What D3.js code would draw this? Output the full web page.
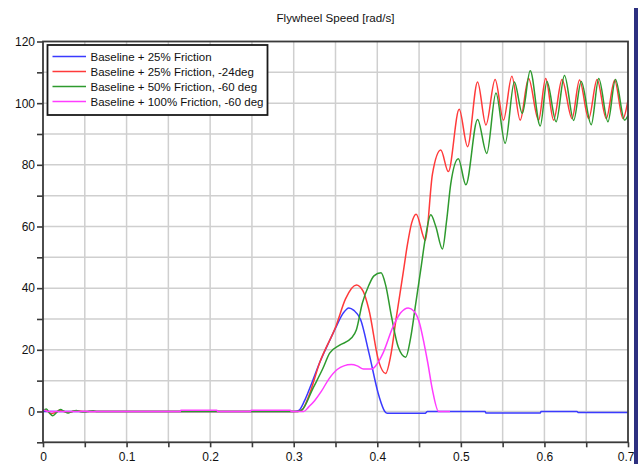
<!DOCTYPE html>
<html>
<head>
<meta charset="utf-8">
<script src="https://cdn.jsdelivr.net/npm/d3@7"></script>
<style>
body{margin:0;background:#fff}
svg{display:block}
text{font-family:"Liberation Sans",Arial,sans-serif;fill:#111}
</style>
</head>
<body>
<svg id="chart"></svg>
<script>
// series, [time s, speed rad/s]
var blueData=[[0,0],[0.3,0],[0.306,0.3],[0.313,3.5],[0.322,9.5],[0.331,15.8],[0.343,23],[0.351,27.6],[0.359,31.8],[0.366,33.6],[0.372,32.8],[0.38,29.8],[0.39,19],[0.402,5],[0.409,0],[0.412,-0.6],[0.457,-0.6],[0.46,0],[0.529,0],[0.53,-0.5],[0.595,-0.5],[0.596,0],[0.639,0],[0.64,-0.3],[0.7,-0.3]];
var redData=[[0,0.5],[0.005,0.1],[0.01,-0.7],[0.015,-0.3],[0.02,0.4],[0.025,0],[0.03,-0.3],[0.035,0],[0.04,0.2],[0.05,0],[0.305,0],[0.31,0.5],[0.318,5],[0.331,15.8],[0.351,28],[0.362,36.5],[0.375,41],[0.383,39],[0.39,33],[0.402,16],[0.41,12.3],[0.416,18],[0.4225,30],[0.431,45],[0.436,54],[0.441,61],[0.4465,64],[0.4575,55.5],[0.466,77],[0.476,84.8],[0.485,77.8],[0.498,98],[0.508,85.9],[0.52,106.9],[0.53,92.9],[0.541,107.7],[0.551,94.5],[0.561,108.7],[0.571,94.5],[0.581,108],[0.593,94.5],[0.6015,108],[0.611,94.5],[0.621,107.7],[0.633,95],[0.642,107.5],[0.653,95],[0.663,107.7],[0.674,95],[0.684,107.4],[0.694,95],[0.7,101]];
var greenData=[[0,0.3],[0.004,0.8],[0.008,-0.6],[0.0115,-1.4],[0.016,-0.4],[0.021,0.6],[0.025,0.1],[0.03,-0.5],[0.035,0],[0.04,0.3],[0.045,-0.1],[0.05,-0.2],[0.055,0.1],[0.06,0.2],[0.065,0],[0.305,0],[0.31,0.5],[0.323,7.5],[0.335,14],[0.343,18.9],[0.355,21.5],[0.369,23.8],[0.375,26.5],[0.382,35],[0.39,41],[0.396,44],[0.4045,45],[0.41,41],[0.417,30.8],[0.425,21],[0.434,17.6],[0.44,24],[0.446,35],[0.452,46],[0.458,57],[0.464,63.8],[0.47,60],[0.478,52.7],[0.483,62],[0.488,74],[0.497,82],[0.506,73.5],[0.52,94.7],[0.531,83.7],[0.542,103.3],[0.553,87],[0.564,106.9],[0.5735,96.7],[0.583,110.5],[0.595,92.6],[0.603,107],[0.614,94],[0.624,109],[0.635,94.4],[0.644,107],[0.656,93],[0.665,108],[0.676,94],[0.685,107.7],[0.696,94.5],[0.7,96]];
var magentaData=[[0,0.6],[0.005,0.1],[0.01,0],[0.164,0],[0.165,0.4],[0.208,0.4],[0.209,0],[0.248,0],[0.249,0.4],[0.296,0.4],[0.297,0],[0.312,0],[0.318,1.5],[0.325,3.5],[0.333,6.5],[0.342,10.5],[0.352,13.6],[0.36,14.8],[0.369,15.2],[0.376,14.8],[0.3835,13.8],[0.3935,13.8],[0.4,15.5],[0.407,19],[0.419,27.6],[0.428,32],[0.437,33.6],[0.444,32.5],[0.4505,28.7],[0.456,22],[0.4604,15.8],[0.466,7],[0.4734,0],[0.487,0]];

var seriesNames=["Baseline + 25% Friction","Baseline + 25% Friction, -24deg","Baseline + 50% Friction, -60 deg","Baseline + 100% Friction, -60 deg"];
var seriesColors=["#3a3aff","#ff3a3a","#2e9a2e","#ff3cff"];

var xTickValues=[0,0.05,0.1,0.15,0.2,0.25,0.3,0.35,0.4,0.45,0.5,0.55,0.6,0.65,0.7];
var xTickLabels=["0","","0.1","","0.2","","0.3","","0.4","","0.5","","0.6","","0.7"];
var yTickValues=[-10,0,10,20,30,40,50,60,70,80,90,100,110,120];
var yTickLabels=["","0","","20","","40","","60","","80","","100","","120"];

var screen={width:638,height:464};
var plot={left:43,right:628,top:41.5,bottom:442.3};

var svg=d3.select("#chart")
          .attr("width",screen.width)
          .attr("height",screen.height);

var x=d3.scaleLinear().domain([0,0.7]).range([plot.left,plot.right]);
var y=d3.scaleLinear().domain([-10,120]).range([plot.bottom,plot.top]);

// grid
svg.append("g")
   .selectAll("line")
   .data(xTickValues.slice(1,-1))
   .enter()
   .append("line")
   .attr("x1",function(d){return x(d);})
   .attr("x2",function(d){return x(d);})
   .attr("y1",plot.top)
   .attr("y2",plot.bottom)
   .attr("stroke","#cfcfcf")
   .attr("stroke-width",1.5);
svg.append("g")
   .selectAll("line")
   .data(yTickValues.slice(1,-1))
   .enter()
   .append("line")
   .attr("x1",plot.left)
   .attr("x2",plot.right)
   .attr("y1",function(d){return y(d);})
   .attr("y2",function(d){return y(d);})
   .attr("stroke","#cfcfcf")
   .attr("stroke-width",1.5);

// curves
var lineGen=d3.line()
              .x(function(d){return x(d[0]);})
              .y(function(d){return y(d[1]);})
              .curve(d3.curveMonotoneX);

var allSeries=[blueData,redData,greenData,magentaData];
svg.append("g")
   .selectAll("path")
   .data(allSeries)
   .enter()
   .append("path")
   .attr("d",lineGen)
   .attr("fill","none")
   .attr("stroke",function(d,i){return seriesColors[i];})
   .attr("stroke-width",1.5)
   .attr("stroke-linejoin","round");

// frame
svg.append("rect")
   .attr("x",plot.left)
   .attr("y",plot.top)
   .attr("width",plot.right-plot.left)
   .attr("height",plot.bottom-plot.top)
   .attr("fill","none")
   .attr("stroke","#3a3a3a")
   .attr("stroke-width",1.8);

// axes
var yAxis=d3.axisLeft(y)
            .tickValues(yTickValues)
            .tickSize(6)
            .tickPadding(2)
            .tickFormat(function(d,i){return yTickLabels[i];});
var gy=svg.append("g").attr("transform","translate("+plot.left+",0)").call(yAxis);
var xAxis=d3.axisBottom(x)
            .tickValues(xTickValues)
            .tickSize(5)
            .tickPadding(5)
            .tickFormat(function(d,i){return xTickLabels[i];});
var gx=svg.append("g").attr("transform","translate(0,"+plot.bottom+")").call(xAxis);
[gx,gy].forEach(function(g){
  g.select(".domain").remove();
  g.selectAll(".tick line").attr("stroke","#3a3a3a").attr("stroke-width",1.6);
  g.selectAll(".tick text").attr("font-size","12px").attr("fill","#111").attr("font-family","Liberation Sans, Arial, sans-serif");
});
// last label sits against the right edge
gx.selectAll(".tick text").filter(function(d){return d===0.7;}).attr("text-anchor","end").attr("dx","6");

// title
svg.append("text")
   .attr("x",(plot.left+plot.right)/2)
   .attr("y",21.5)
   .attr("text-anchor","middle")
   .attr("font-size","11.6px")
   .text("Flywheel Speed [rad/s]");

// legend
var legend=svg.append("g").attr("transform","translate(47.5,45)");
legend.append("rect")
      .attr("width",220)
      .attr("height",70)
      .attr("fill","#fff")
      .attr("stroke","#1a1a1a")
      .attr("stroke-width",1.8);
var items=legend.selectAll("g.item")
                .data(seriesNames)
                .enter()
                .append("g")
                .classed("item",true)
                .attr("transform",function(d,i){return "translate(0,"+(11.5+i*15)+")";});
items.append("line")
     .attr("x1",5)
     .attr("x2",38.5)
     .attr("stroke",function(d,i){return seriesColors[i];})
     .attr("stroke-width",1.5);
items.append("text")
     .attr("x",43)
     .attr("y",4)
     .attr("font-size","11.5px")
     .text(function(d){return d;});

// window edge on the right
svg.append("rect")
   .attr("x",634)
   .attr("y",8)
   .attr("width",4)
   .attr("height",456)
   .attr("fill","#2d3080");
</script>
</body>
</html>
